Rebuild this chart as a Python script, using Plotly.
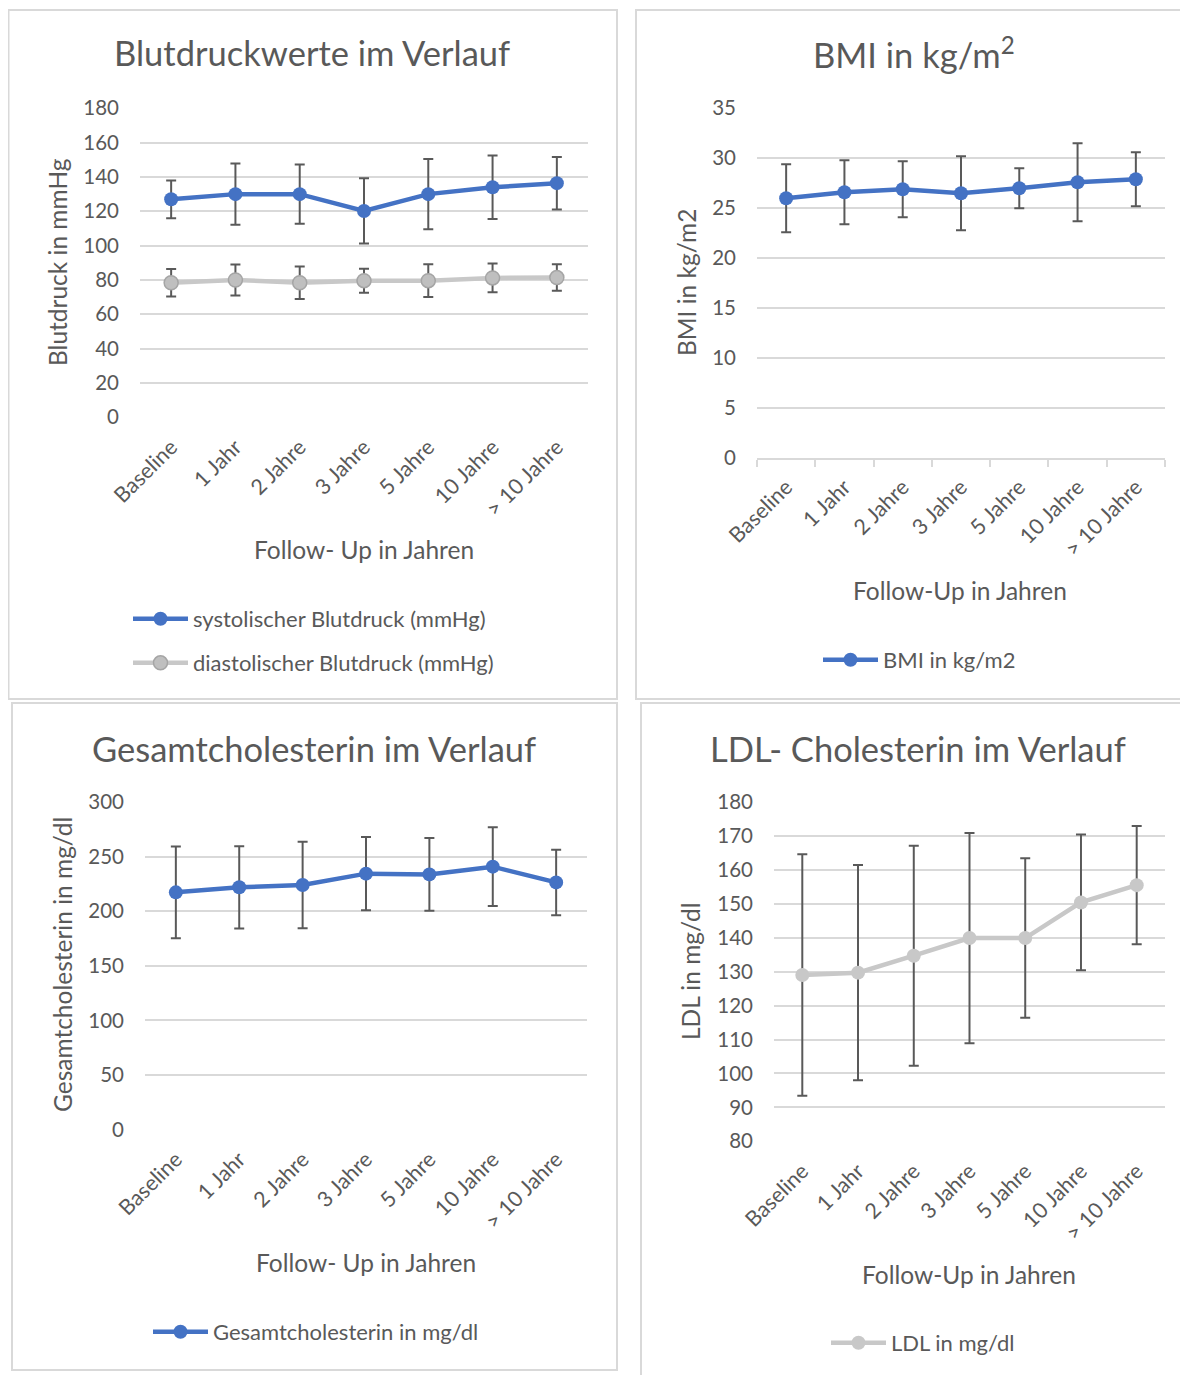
import plotly.graph_objects as go

# page body has an 8px margin; figure is sized to fit inside the 1188x1375 window
OX, OY = 8, 8
W, H = 1180, 1367
FONT = "Lato"
TXT = "#595959"
GRID = "#D9D9D9"
BLUE = "#4472C4"
GRAY_LINE = "#C8C8C8"
GRAY_FILL = "#BFBFBF"
ERR = "#595959"

categories = ["Baseline", "1 Jahr", "2 Jahre", "3 Jahre", "5 Jahre", "10 Jahre", "> 10 Jahre"]

# Blutdruck
sys_mean = [127.0, 130.0, 130.0, 120.2, 130.0, 134.0, 136.4]
sys_sd = [11.0, 17.8, 17.3, 19.0, 20.5, 18.5, 15.3]
dia_mean = [78.4, 80.0, 78.4, 79.6, 79.6, 81.2, 81.4]
dia_sd = [8.0, 9.0, 9.5, 7.0, 9.5, 8.4, 7.7]

# BMI
bmi_mean = [26.0, 26.6, 26.9, 26.5, 27.0, 27.6, 27.9]
bmi_sd = [3.4, 3.2, 2.8, 3.7, 2.0, 3.9, 2.7]

# Gesamtcholesterin
chol_mean = [217.3, 221.9, 224.0, 234.4, 233.7, 240.8, 226.4]
chol_sd = [42.0, 37.7, 39.5, 33.5, 33.3, 36.0, 30.0]

# LDL
ldl_mean = [129.0, 129.7, 134.7, 139.9, 139.9, 150.4, 155.5]
ldl_sd = [35.6, 31.7, 32.4, 31.0, 23.5, 20.0, 17.4]


def px(x):
    return (x - OX) / W


def py(y):
    return 1 - (y - OY) / H


fig = go.Figure()


def err(arr):
    return dict(type="data", array=arr, visible=True, color=ERR, thickness=2, width=5)


fig.add_trace(go.Scatter(x=categories, y=sys_mean, error_y=err(sys_sd), mode="lines+markers",
                         name="systolischer Blutdruck (mmHg)", line=dict(color=BLUE, width=4.5),
                         marker=dict(color=BLUE, size=14), xaxis="x", yaxis="y", legend="legend",
                         showlegend=True))
fig.add_trace(go.Scatter(x=categories, y=dia_mean, error_y=err(dia_sd), mode="lines+markers",
                         name="diastolischer Blutdruck (mmHg)", line=dict(color=GRAY_LINE, width=4.5),
                         marker=dict(color=GRAY_FILL, size=14, line=dict(color="#A5A5A5", width=1.5)),
                         xaxis="x", yaxis="y", legend="legend2", showlegend=True))
fig.add_trace(go.Scatter(x=categories, y=bmi_mean, error_y=err(bmi_sd), mode="lines+markers",
                         name="BMI in kg/m2", line=dict(color=BLUE, width=4.5),
                         marker=dict(color=BLUE, size=14), xaxis="x2", yaxis="y2", legend="legend3",
                         showlegend=True))
fig.add_trace(go.Scatter(x=categories, y=chol_mean, error_y=err(chol_sd), mode="lines+markers",
                         name="Gesamtcholesterin in mg/dl", line=dict(color=BLUE, width=4.5),
                         marker=dict(color=BLUE, size=14), xaxis="x3", yaxis="y3", legend="legend4",
                         showlegend=True))
fig.add_trace(go.Scatter(x=categories, y=ldl_mean, error_y=err(ldl_sd), mode="lines+markers",
                         name="LDL in mg/dl", line=dict(color=GRAY_LINE, width=4.5),
                         marker=dict(color=GRAY_LINE, size=14), xaxis="x4", yaxis="y4", legend="legend5",
                         showlegend=True))

xtickfont = dict(family=FONT, size=21.5, color=TXT)
ytickfont = dict(family=FONT, size=20.5, color=TXT)


def xaxis(domain, anchor, line=False):
    d = dict(domain=domain, anchor=anchor, type="category", tickangle=-45, tickfont=xtickfont,
             showgrid=False, zeroline=False, ticklabelstandoff=12, fixedrange=True, automargin=False)
    if line:
        d.update(showline=True, linecolor=GRID, linewidth=2, ticks="outside", ticklen=7,
                 tickcolor=GRID, tickwidth=2, tickson="boundaries", ticklabelstandoff=6)
    else:
        d.update(showline=False, ticks="")
    return d


def yaxis(domain, anchor, rng, dtick):
    return dict(domain=domain, anchor=anchor, range=rng, dtick=dtick, tickfont=ytickfont,
                showgrid=True, gridcolor=GRID, gridwidth=2, zeroline=False, showline=False,
                ticks="", ticklabelstandoff=20, fixedrange=True, automargin=False)


fig.update_layout(
    width=W, height=H, margin=dict(l=0, r=0, t=0, b=0, pad=0, autoexpand=False),
    paper_bgcolor="white", plot_bgcolor="white", showlegend=True,
    font=dict(family=FONT, color=TXT),
    xaxis=xaxis([px(140), px(588)], "y"),
    yaxis=yaxis([py(417.3), py(108.3)], "x", [0, 180], 20),
    xaxis2=xaxis([px(757), px(1165)], "y2", line=True),
    yaxis2=yaxis([py(458), py(108.3)], "x2", [0, 35], 5),
    xaxis3=xaxis([px(145), px(587)], "y3"),
    yaxis3=yaxis([py(1129.7), py(802)], "x3", [0, 300], 50),
    xaxis4=xaxis([px(774), px(1165)], "y4"),
    yaxis4=yaxis([py(1141.3), py(802)], "x4", [80, 180], 10),
)

legfont = dict(family=FONT, size=22, color=TXT)


def leg(x, y):
    return dict(x=px(x), y=py(y), xanchor="left", yanchor="middle", bgcolor="rgba(0,0,0,0)",
                font=legfont, itemwidth=55, borderwidth=0, orientation="v")


fig.update_layout(
    legend=leg(128, 619),
    legend2=leg(128, 663),
    legend3=leg(818, 660),
    legend4=leg(148, 1332),
    legend5=leg(826, 1343),
)

# panel borders
for (x0, y0, x1, y1) in [(8.5, 10, 617, 699), (636, 10, 1200, 699), (12, 703, 617, 1370), (641, 703, 1200, 1400)]:
    fig.add_shape(type="rect", xref="paper", yref="paper", x0=px(x0), x1=px(x1), y0=py(y0), y1=py(y1),
                  line=dict(color=GRID, width=2), fillcolor="rgba(0,0,0,0)", layer="below")

titlefont = dict(family=FONT, size=34.5, color=TXT)
axfont = dict(family=FONT, size=24.5, color=TXT)

annots = [
    ("Blutdruckwerte im Verlauf", 312, 53, titlefont, 0),
    ("BMI in kg/m<sup>2</sup>", 914, 53, titlefont, 0),
    ("Gesamtcholesterin im Verlauf", 314, 748, titlefont, 0),
    ("LDL- Cholesterin im Verlauf", 918, 748, titlefont, 0),
    ("Follow- Up in Jahren", 364, 549, axfont, 0),
    ("Follow-Up in Jahren", 960, 590, axfont, 0),
    ("Follow- Up in Jahren", 366, 1262, axfont, 0),
    ("Follow-Up in Jahren", 969, 1274, axfont, 0),
    ("Blutdruck in mmHg", 58, 262, axfont, -90),
    ("BMI in kg/m2", 686, 283, axfont, -90),
    ("Gesamtcholesterin in mg/dl", 63, 965, axfont, -90),
    ("LDL in mg/dl", 690, 971, axfont, -90),
]
for text, x, y, f, ang in annots:
    fig.add_annotation(text=text, x=px(x), y=py(y), xref="paper", yref="paper", showarrow=False,
                       font=f, textangle=ang, xanchor="center", yanchor="middle")

fig.write_html("out.html")
